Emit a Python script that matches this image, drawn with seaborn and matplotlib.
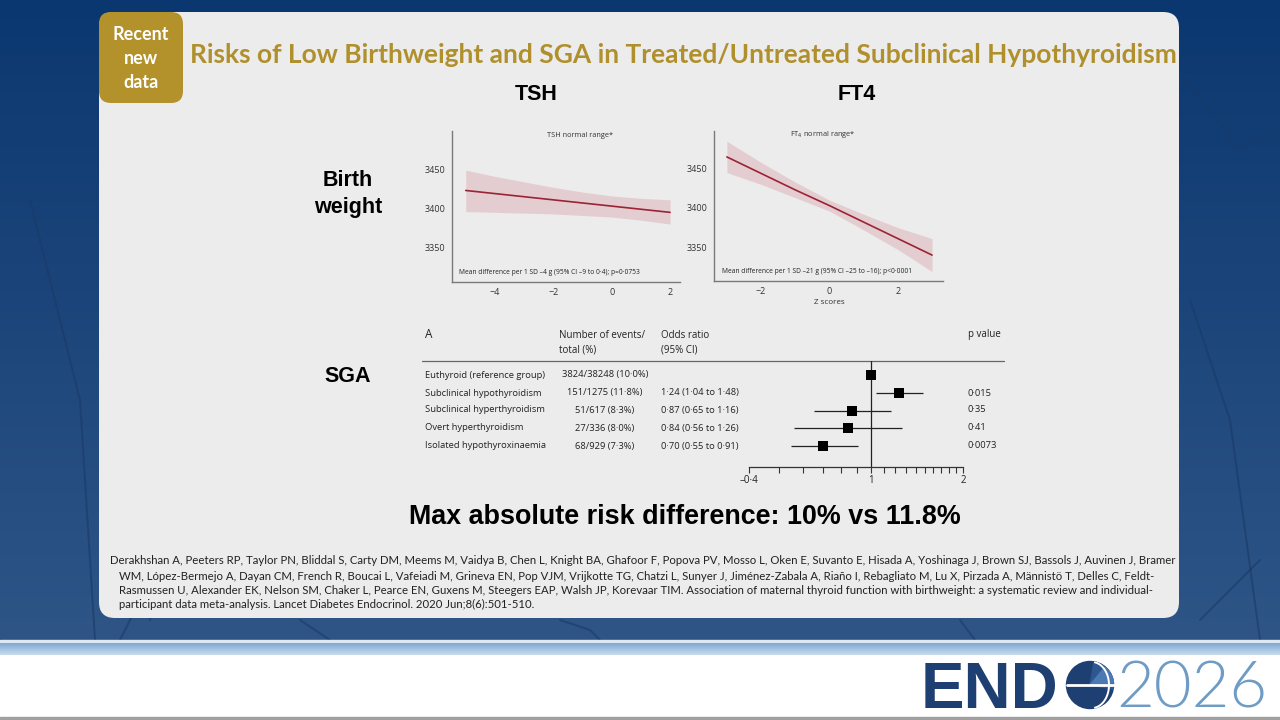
import numpy as np
import pandas as pd
import matplotlib
matplotlib.use("Agg")
import matplotlib.pyplot as plt
import seaborn as sns
from matplotlib.patches import FancyBboxPatch, Rectangle, Circle, Wedge
from matplotlib.ticker import FixedLocator, NullFormatter
from matplotlib import font_manager

# ---------------- data ----------------
tsh_x = [-5, -4, -3, -2, -1, 0, 1, 2]
tsh_mean = [3423, 3419, 3415, 3411, 3407, 3403, 3399, 3395]
tsh_upper = [3449, 3441, 3434, 3427, 3421, 3416, 3413, 3411]
tsh_lower = [3396, 3395, 3394, 3393, 3391, 3389, 3385, 3380]

ft4_x = [-3, -2, -1, 0, 1, 2, 3]
ft4_mean = [3465, 3444, 3423, 3403, 3382, 3361, 3340]
ft4_upper = [3485, 3458, 3433, 3410, 3392, 3375, 3361]
ft4_lower = [3445, 3430, 3413, 3396, 3372, 3347, 3319]

groups = ["Euthyroid (reference group)", "Subclinical hypothyroidism",
          "Subclinical hyperthyroidism", "Overt hyperthyroidism",
          "Isolated hypothyroxinaemia"]
events = ["3824/38248 (10·0%)", "151/1275 (11·8%)", "51/617 (8·3%)",
          "27/336 (8·0%)", "68/929 (7·3%)"]
or_est = [1.00, 1.24, 0.87, 0.84, 0.70]
or_lo = [np.nan, 1.04, 0.65, 0.56, 0.55]
or_hi = [np.nan, 1.48, 1.16, 1.26, 0.91]
or_text = ["", "1·24 (1·04 to 1·48)", "0·87 (0·65 to 1·16)",
           "0·84 (0·56 to 1·26)", "0·70 (0·55 to 0·91)"]
p_text = ["", "0·015", "0·35", "0·41", "0·0073"]

bw_yticks = [3350, 3400, 3450]
tsh_xticks = [-4, -2, 0, 2]
ft4_xticks = [-2, 0, 2]
or_major = [0.4, 1, 2]
or_major_labels = ["–0·4", "1", "2"]
or_minor = [0.5, 0.6, 0.7, 0.8, 0.9, 1.1, 1.2, 1.3, 1.4, 1.5, 1.6, 1.7, 1.8, 1.9]

ref_lines = [
    "Derakhshan A, Peeters RP, Taylor PN, Bliddal S, Carty DM, Meems M, Vaidya B, Chen L, Knight BA, Ghafoor F, Popova PV, Mosso L, Oken E, Suvanto E, Hisada A, Yoshinaga J, Brown SJ, Bassols J, Auvinen J, Bramer",
    "WM, López-Bermejo A, Dayan CM, French R, Boucai L, Vafeiadi M, Grineva EN, Pop VJM, Vrijkotte TG, Chatzi L, Sunyer J, Jiménez-Zabala A, Riaño I, Rebagliato M, Lu X, Pirzada A, Männistö T, Delles C, Feldt-",
    "Rasmussen U, Alexander EK, Nelson SM, Chaker L, Pearce EN, Guxens M, Steegers EAP, Walsh JP, Korevaar TIM. Association of maternal thyroid function with birthweight: a systematic review and individual-",
    "participant data meta-analysis. Lancet Diabetes Endocrinol. 2020 Jun;8(6):501-510.",
]

# ---------------- style ----------------
sns.set_theme(style="white")
plt.rcParams["font.family"] = ["Open Sans", "DejaVu Sans"]

installed = {f.name for f in font_manager.fontManager.ttflist}
title_family = ["Liberation Sans Narrow", "DejaVu Sans"] if "Liberation Sans Narrow" in installed else ["Lato", "DejaVu Sans"]

W, H = 1280, 720
fig = plt.figure(figsize=(12.8, 7.2), dpi=100)

bg = fig.add_axes([0, 0, 1, 1])
bg.set_xlim(0, W)
bg.set_ylim(H, 0)
bg.axis("off")

# navy background gradient
grad = np.linspace(0, 1, 256)[:, None]
c1 = np.array([0x0b, 0x37, 0x70]) / 255
c2 = np.array([0x2e, 0x55, 0x86]) / 255
img = c1[None, None, :] * (1 - grad[..., None]) + c2[None, None, :] * grad[..., None]
img = np.repeat(img, 2, axis=1)
bg.imshow(img, extent=[0, W, 641, 0], aspect="auto", zorder=0)
bg.add_patch(Rectangle((0, 641), W, 79, color="white", zorder=1))
bg.add_patch(Rectangle((0, 640), W, 3, color="#dde8f2", zorder=2))
stripe = np.linspace(0, 1, 64)[:, None]
s1 = np.array([0x7f, 0xa8, 0xd2]) / 255
s2 = np.array([0xc9, 0xdc, 0xee]) / 255
simg = s1[None, None, :] * (1 - stripe[..., None]) + s2[None, None, :] * stripe[..., None]
simg = np.repeat(simg, 2, axis=1)
bg.imshow(simg, extent=[0, W, 655, 643], aspect="auto", zorder=2)
bg.add_patch(Rectangle((0, 717), W, 3, color="#a0a0a0", zorder=2))

# faint vein-like lines in the background
for (xs, ys) in [([120, 160, 150], [640, 560, 620]), ([1190, 1230, 1260], [300, 420, 640]),
                 ([1200, 1260], [620, 560]), ([30, 80, 95], [200, 400, 640]),
                 ([1185, 1240, 1275], [80, 150, 130]), ([300, 330], [620, 640]),
                 ([560, 590, 600], [620, 630, 640]), ([960, 975], [620, 640])]:
    bg.plot(xs, ys, color="#1a3a66", lw=1.4, alpha=0.6, zorder=1)

# main light panel
bg.add_patch(FancyBboxPatch((99, 12), 1080, 606,
                            boxstyle="round,pad=0,rounding_size=16",
                            fc="#ececec", ec="none", zorder=3))
# badge
bg.add_patch(FancyBboxPatch((99, 12), 84, 91,
                            boxstyle="round,pad=0,rounding_size=12",
                            fc="#b3922b", ec="none", zorder=4))
for txt, yy in zip(["Recent", "new", "data"], [34, 58, 82]):
    bg.text(141, yy, txt, ha="center", va="center", color="white",
            fontsize=13, fontweight="bold", family=["Lato", "DejaVu Sans"], zorder=5)

renderer = fig.canvas.get_renderer()


def fit(t, width):
    bb = t.get_window_extent(renderer)
    t.set_fontsize(t.get_fontsize() * width / bb.width)
    return t.get_fontsize()


title = bg.text(190, 55, "Risks of Low Birthweight and SGA in Treated/Untreated Subclinical Hypothyroidism",
                ha="left", va="center", color="#b0902c", fontsize=24, fontweight="bold",
                family=title_family, zorder=5)
fit(title, 988)

arial = ["Liberation Sans", "DejaVu Sans"]
bg.text(536, 95, "TSH", ha="center", va="center", fontsize=15.5, fontweight="bold", family=arial, color="black", zorder=5)
bg.text(857, 95, "FT4", ha="center", va="center", fontsize=15.5, fontweight="bold", family=arial, color="black", zorder=5)
bg.text(348, 180, "Birth", ha="center", va="center", fontsize=15.5, fontweight="bold", family=arial, color="black", zorder=5)
bg.text(348, 207, "weight", ha="center", va="center", fontsize=15.5, fontweight="bold", family=arial, color="black", zorder=5)
bg.text(348, 377, "SGA", ha="center", va="center", fontsize=15.5, fontweight="bold", family=arial, color="black", zorder=5)
mx = bg.text(685, 517, "Max absolute risk difference: 10% vs 11.8%", ha="center", va="center",
             fontsize=19, fontweight="bold", family=arial, color="black", zorder=5)
fit(mx, 553)

# reference
calib = ["Lato", "DejaVu Sans"]
r0 = bg.text(110, 561, ref_lines[0], ha="left", va="center", fontsize=8.5,
             family=calib, color="#222222", zorder=5)
rs = fit(r0, 1065)
for txt, yy in zip(ref_lines[1:], [576, 590, 604]):
    bg.text(119, yy, txt, ha="left", va="center", fontsize=rs, family=calib, color="#222222", zorder=5)

# logo
bg.text(921, 708, "END", ha="left", va="baseline", fontsize=47, fontweight="bold",
        family=arial, color="#1d3f72", zorder=5)
bg.add_patch(Circle((1090, 685), 23.5, color="#1d3f72", zorder=5))
bg.add_patch(Wedge((1090, 685), 23.5, -80, 10, color="#2d5791", zorder=5))
bg.add_patch(Wedge((1090, 685), 23.5, -50, -5, color="#4d79b3", zorder=5))
bg.plot([1066.5, 1113.5], [685, 685], color="white", lw=2, zorder=6)
th = np.linspace(-1.4, 1.4, 50)
bg.plot(1090 + 17 * np.cos(th) + 2, 685 + 23 * np.sin(th), color="white", lw=1.4, zorder=6)
bg.text(1116, 708, "2026", ha="left", va="baseline", fontsize=47, fontweight=300,
        family=["Lato", "DejaVu Sans"], color="#6f9cc4", zorder=5)


# ---------------- chart panels ----------------
def px_axes(left, top, right, bottom):
    return fig.add_axes([left / W, 1 - bottom / H, (right - left) / W, (bottom - top) / H])


line_col = "#9b2335"
band_col = "#dca9ae"
spine_col = "#7a7a7a"
small_font = ["Open Sans", "DejaVu Sans"]


def style_bw(ax, xticks):
    ax.set_facecolor("none")
    for s in ["top", "right"]:
        ax.spines[s].set_visible(False)
    for s in ["left", "bottom"]:
        ax.spines[s].set_color(spine_col)
        ax.spines[s].set_linewidth(1.0)
    ax.set_xticks(xticks)
    ax.set_yticks(bw_yticks)
    ax.tick_params(axis="both", direction="out", length=3, width=0.8, color=spine_col,
                   labelsize=6.5, labelcolor="#333333", pad=1.5)
    for lab in ax.get_xticklabels() + ax.get_yticklabels():
        lab.set_family(small_font)
    ax.set_xlabel("")
    ax.set_ylabel("")


ax1 = px_axes(452, 131, 680, 282)
ax1.set_zorder(6)
df1 = pd.DataFrame({"z": tsh_x, "bw": tsh_mean, "lo": tsh_lower, "hi": tsh_upper})
ax1.fill_between(df1["z"], df1["lo"], df1["hi"], color=band_col, alpha=0.45, lw=0)
sns.lineplot(data=df1, x="z", y="bw", ax=ax1, color=line_col, lw=1.2)
ax1.set_xlim(-5.47, 2.34)
ax1.set_ylim(3306, 3499)
style_bw(ax1, tsh_xticks)
ax1.text(0.56, 0.97, "TSH normal range*", transform=ax1.transAxes, ha="center", va="center",
         fontsize=5.3, color="#333333", family=small_font)
t1 = ax1.text(0.03, 0.066, "Mean difference per 1 SD –4 g (95% CI –9 to 0·4); p=0·0753",
              transform=ax1.transAxes, ha="left", va="center", fontsize=6, color="#222222", family=small_font)
fit(t1, 179)

ax2 = px_axes(714, 131, 943, 281)
ax2.set_zorder(6)
df2 = pd.DataFrame({"z": ft4_x, "bw": ft4_mean, "lo": ft4_lower, "hi": ft4_upper})
ax2.fill_between(df2["z"], df2["lo"], df2["hi"], color=band_col, alpha=0.45, lw=0)
sns.lineplot(data=df2, x="z", y="bw", ax=ax2, color=line_col, lw=1.2)
ax2.set_xlim(-3.376, 3.32)
ax2.set_ylim(3307, 3498)
style_bw(ax2, ft4_xticks)
ax2.text(0.475, 0.975, "FT$_4$ normal range*", transform=ax2.transAxes, ha="center", va="center",
         fontsize=5.3, color="#333333", family=small_font)
t2 = ax2.text(0.035, 0.066, "Mean difference per 1 SD –21 g (95% CI –25 to –16); p<0·0001",
              transform=ax2.transAxes, ha="left", va="center", fontsize=6, color="#222222", family=small_font)
fit(t2, 188)
ax2.text(829, 302, "Z scores", transform=bg.transData, ha="center", va="center",
         fontsize=5.8, color="#333333", family=small_font)

# ---------------- forest plot ----------------
ax3 = px_axes(749, 361, 963, 467)
ax3.set_zorder(6)
ax3.set_facecolor("none")
rows = list(range(len(groups)))
dff = pd.DataFrame({"row": rows, "or": or_est, "lo": or_lo, "hi": or_hi})
ax3.set_xscale("log")
ax3.axvline(1, color="#222222", lw=0.9, zorder=1)
ci = dff.dropna()
ax3.hlines(ci["row"], ci["lo"], ci["hi"], color="#222222", lw=0.9, zorder=2)
sns.scatterplot(data=dff, x="or", y="row", ax=ax3, marker="s", s=42, color="black",
                edgecolor="black", linewidth=0, zorder=3, legend=False)
ax3.set_xlim(0.4, 2)
ax3.set_ylim(4 + 21 / 17.75, -14 / 17.75)
for s in ["top", "right", "left"]:
    ax3.spines[s].set_visible(False)
ax3.spines["bottom"].set_color("#333333")
ax3.spines["bottom"].set_linewidth(0.9)
ax3.xaxis.set_major_locator(FixedLocator(or_major))
ax3.set_xticklabels(or_major_labels)
ax3.xaxis.set_minor_locator(FixedLocator(or_minor))
ax3.xaxis.set_minor_formatter(NullFormatter())
ax3.tick_params(axis="x", which="both", direction="out", length=4, width=0.8, color="#333333",
                labelsize=7, labelcolor="#222222", pad=2, bottom=True)
for lab in ax3.get_xticklabels():
    lab.set_family(small_font)
ax3.set_yticks([])
ax3.set_xlabel("")
ax3.set_ylabel("")

# table text
tcol = "#222222"
hdr = dict(ha="left", va="center", fontsize=7, color=tcol, family=small_font, zorder=6)
bg.text(425, 335, "A", fontsize=8.5, ha="left", va="center", color=tcol, family=small_font, zorder=6)
bg.text(559, 335, "Number of events/", **hdr)
bg.text(559, 350, "total (%)", **hdr)
bg.text(661, 335, "Odds ratio", **hdr)
bg.text(661, 350, "(95% CI)", **hdr)
bg.text(968, 335, "p value", **hdr)
bg.plot([422, 1004], [361, 361], color="#666666", lw=0.9, zorder=6)

tl = bg.text(425, 393, groups[1], ha="left", va="center", fontsize=6.8, color=tcol, family=small_font, zorder=6)
fs = fit(tl, 117)
tl.remove()
row_y = [375, 393, 410, 428, 446]
for g, e, o, p, yy in zip(groups, events, or_text, p_text, row_y):
    bg.text(425, yy, g, ha="left", va="center", fontsize=fs, color=tcol, family=small_font, zorder=6)
    bg.text(605, yy, e, ha="center", va="center", fontsize=fs, color=tcol, family=small_font, zorder=6)
    bg.text(661, yy, o, ha="left", va="center", fontsize=fs, color=tcol, family=small_font, zorder=6)
    bg.text(968, yy, p, ha="left", va="center", fontsize=fs, color=tcol, family=small_font, zorder=6)

fig.savefig("out.png", dpi=100)
